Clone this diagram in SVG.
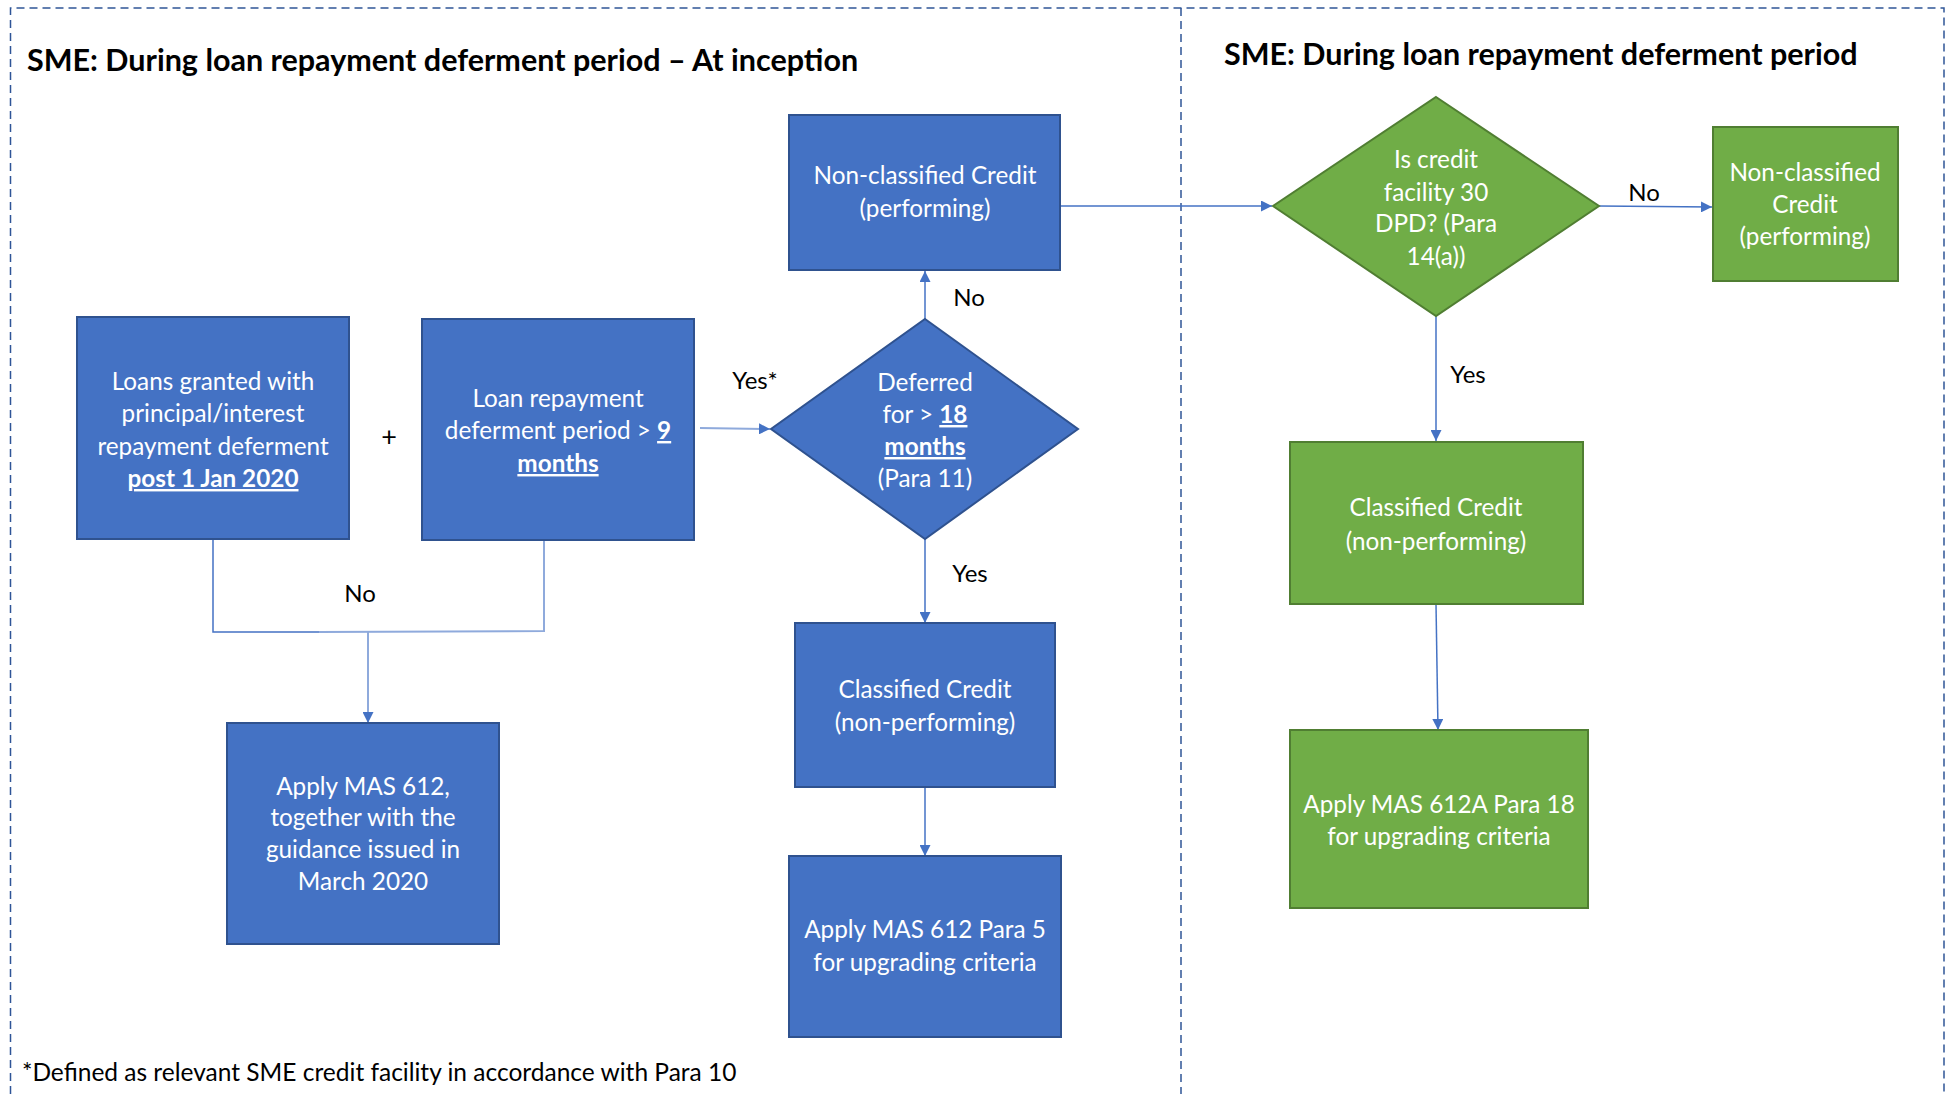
<svg xmlns="http://www.w3.org/2000/svg" width="1948" height="1094" viewBox="0 0 1948 1094">
<defs>
<style>
.frame{fill:none;stroke:#2F5597;stroke-width:1.5;stroke-dasharray:8,5}
.blue{fill:#4472C4;stroke:#2F528F;stroke-width:2}
.green{fill:#70AD47;stroke:#507E32;stroke-width:2}
.t{font-family:Lato,"Liberation Sans",sans-serif;font-size:24.3px;fill:#FFFFFF;text-anchor:middle}
.lbl{font-family:Lato,"Liberation Sans",sans-serif;font-size:24px;fill:#000000;text-anchor:middle}
.title{font-family:Lato,"Liberation Sans",sans-serif;font-size:30.5px;font-weight:bold;fill:#000000}
.u{font-weight:bold;text-decoration:underline}
.c{fill:none;stroke:#4472C4;stroke-width:1.5}
.cl{fill:none;stroke:#8FAADC;stroke-width:2}
</style>
<marker id="arrL" viewBox="0 0 10 10" refX="10" refY="5" markerWidth="11" markerHeight="11" orient="auto" markerUnits="userSpaceOnUse">
<path d="M0,0 L10,5 L0,10 z" fill="#4472C4"/>
</marker>
</defs>
<rect width="1948" height="1094" fill="#FFFFFF"/>
<g id="frames">
<path class="frame" d="M10.5,1094 L10.5,8 L1944,8 L1944,1094"/>
<path class="frame" d="M1181,8 L1181,1094"/>
</g>
<text class="title" x="27" y="71">SME: During loan repayment deferment period – At inception</text>
<text class="title" x="1224" y="65">SME: During loan repayment deferment period</text>
<g id="connectors">
<path class="c" d="M1060,206 L1272,206" marker-end="url(#arrL)"/>
<path class="c" d="M1599,206 L1712,207" marker-end="url(#arrL)"/>
<path class="c" d="M1436,316 L1436,441" marker-end="url(#arrL)"/>
<path class="c" d="M1436,604 L1438,730" marker-end="url(#arrL)"/>
<path class="c" d="M925,319 L925,271" marker-end="url(#arrL)"/>
<path class="cl" d="M700,428 L770,429" marker-end="url(#arrL)"/>
<path class="c" d="M925,539 L925,623" marker-end="url(#arrL)"/>
<path class="c" d="M925,787 L925,856" marker-end="url(#arrL)"/>
<path class="c" d="M213,539 L213,632 L319,632"/>
<path class="cl" d="M319,632 L544,631 L544,540"/>
<path class="cl" d="M368,632 L368,723" marker-end="url(#arrL)"/>
<text class="lbl" x="969" y="306">No</text>
<text class="lbl" x="755" y="389">Yes*</text>
<text class="lbl" x="970" y="582">Yes</text>
<text class="lbl" x="360" y="602">No</text>
<text class="lbl" x="1644" y="201">No</text>
<text class="lbl" x="1468" y="383">Yes</text>
<text class="lbl" x="389" y="446" style="font-size:27px">+</text>
</g>
<g id="nc-blue">
<rect class="blue" x="789" y="115" width="271" height="155"/>
<text class="t" x="925" y="184">Non-classified Credit</text>
<text class="t" x="925" y="217">(performing)</text>
</g>
<g id="loans-granted">
<rect class="blue" x="77" y="317" width="272" height="222"/>
<text class="t" x="213" y="390">Loans granted with</text>
<text class="t" x="213" y="422">principal/interest</text>
<text class="t" x="213" y="455">repayment deferment</text>
<text class="t" x="213" y="487"><tspan class="u">post 1 Jan 2020</tspan></text>
</g>
<g id="loan-repayment">
<rect class="blue" x="422" y="319" width="272" height="221"/>
<text class="t" x="558" y="407">Loan repayment</text>
<text class="t" x="558" y="439">deferment period &gt; <tspan class="u">9</tspan></text>
<text class="t" x="558" y="472"><tspan class="u">months</tspan></text>
</g>
<g id="deferred-diamond">
<polygon class="blue" points="925,319 1078,429 925,539 771,429"/>
<text class="t" x="925" y="391">Deferred</text>
<text class="t" x="925" y="423">for &gt; <tspan class="u">18</tspan></text>
<text class="t" x="925" y="455"><tspan class="u">months</tspan></text>
<text class="t" x="925" y="487">(Para 11)</text>
</g>
<g id="classified-blue">
<rect class="blue" x="795" y="623" width="260" height="164"/>
<text class="t" x="925" y="698">Classified Credit</text>
<text class="t" x="925" y="731">(non-performing)</text>
</g>
<g id="apply-para5">
<rect class="blue" x="789" y="856" width="272" height="181"/>
<text class="t" x="925" y="938">Apply MAS 612 Para 5</text>
<text class="t" x="925" y="971">for upgrading criteria</text>
</g>
<g id="apply-612">
<rect class="blue" x="227" y="723" width="272" height="221"/>
<text class="t" x="363" y="795">Apply MAS 612,</text>
<text class="t" x="363" y="826">together with the</text>
<text class="t" x="363" y="858">guidance issued in</text>
<text class="t" x="363" y="890">March 2020</text>
</g>
<g id="dpd-diamond">
<polygon class="green" points="1436,97 1599,206 1436,316 1273,206"/>
<text class="t" x="1436" y="168">Is credit</text>
<text class="t" x="1436" y="201">facility 30</text>
<text class="t" x="1436" y="232">DPD? (Para</text>
<text class="t" x="1436" y="265">14(a))</text>
</g>
<g id="nc-green">
<rect class="green" x="1713" y="127" width="185" height="154"/>
<text class="t" x="1805" y="181">Non-classified</text>
<text class="t" x="1805" y="213">Credit</text>
<text class="t" x="1805" y="245">(performing)</text>
</g>
<g id="classified-green">
<rect class="green" x="1290" y="442" width="293" height="162"/>
<text class="t" x="1436" y="516">Classified Credit</text>
<text class="t" x="1436" y="550">(non-performing)</text>
</g>
<g id="apply-612a">
<rect class="green" x="1290" y="730" width="298" height="178"/>
<text class="t" x="1439" y="813">Apply MAS 612A Para 18</text>
<text class="t" x="1439" y="845">for upgrading criteria</text>
</g>
<text class="lbl" x="22" y="1081" style="text-anchor:start;font-size:24.5px">*Defined as relevant SME credit facility in accordance with Para 10</text>
</svg>
